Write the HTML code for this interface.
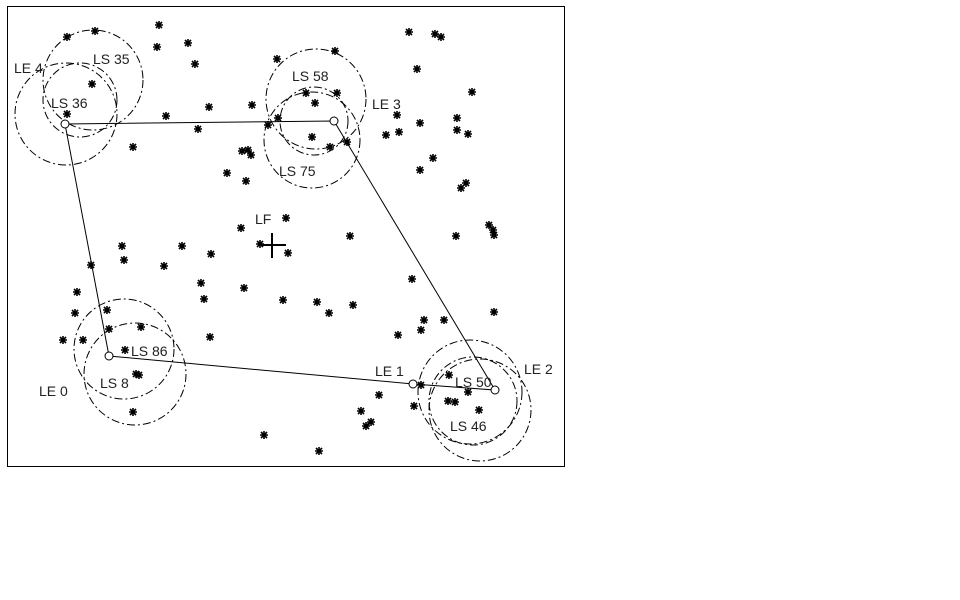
<!DOCTYPE html>
<html><head><style>body{margin:0;background:#fff}svg{display:block}text{font-family:"Liberation Sans",sans-serif;font-size:14px;fill:#222}</style></head><body>
<svg width="960" height="600" xmlns="http://www.w3.org/2000/svg">
<defs><g id="s"><path d="M-4 0H4M0-4V4M-3-3L3 3M-3 3L3-3" stroke="#000" stroke-width="1.6"/></g></defs>
<rect x="7.5" y="6.5" width="557" height="460" fill="none" stroke="#000"/>
<g fill="none" stroke="#000" stroke-width="1" stroke-dasharray="8,3,2,3">
<circle cx="66" cy="114" r="51"/><circle cx="93" cy="80" r="50"/><circle cx="80" cy="100" r="37"/>
<circle cx="316" cy="99" r="50"/><circle cx="314" cy="121" r="34"/><circle cx="312" cy="140" r="48"/>
<circle cx="124" cy="349" r="50"/><circle cx="135" cy="374" r="51"/>
<circle cx="470" cy="392" r="52"/><circle cx="480" cy="410" r="51"/><circle cx="473" cy="401" r="44"/>
</g>
<polyline points="65,124 334,121 495,390 413,384 109,356 65,124" fill="none" stroke="#000"/>
<g fill="#fff" stroke="#000"><circle cx="65" cy="124" r="4"/><circle cx="334" cy="121" r="4"/><circle cx="495" cy="390" r="4"/><circle cx="413" cy="384" r="4"/><circle cx="109" cy="356" r="4"/></g>
<path d="M262 245H286M272 233V258" stroke="#000" stroke-width="2"/>
<g>
<use href="#s" x="67" y="37"/><use href="#s" x="95" y="31"/><use href="#s" x="159" y="25"/><use href="#s" x="157" y="47"/><use href="#s" x="188" y="43"/><use href="#s" x="195" y="64"/><use href="#s" x="92" y="84"/><use href="#s" x="67" y="114"/><use href="#s" x="166" y="116"/><use href="#s" x="209" y="107"/><use href="#s" x="252" y="105"/><use href="#s" x="198" y="129"/><use href="#s" x="133" y="147"/><use href="#s" x="242" y="151"/><use href="#s" x="248" y="150"/><use href="#s" x="251" y="155"/><use href="#s" x="227" y="173"/><use href="#s" x="246" y="181"/><use href="#s" x="241" y="228"/><use href="#s" x="286" y="218"/><use href="#s" x="277" y="59"/><use href="#s" x="335" y="51"/><use href="#s" x="306" y="93"/><use href="#s" x="337" y="93"/><use href="#s" x="315" y="103"/><use href="#s" x="278" y="118"/><use href="#s" x="268" y="125"/><use href="#s" x="312" y="137"/><use href="#s" x="330" y="147"/><use href="#s" x="347" y="142"/><use href="#s" x="409" y="32"/><use href="#s" x="435" y="34"/><use href="#s" x="441" y="37"/><use href="#s" x="417" y="69"/><use href="#s" x="472" y="92"/><use href="#s" x="397" y="115"/><use href="#s" x="420" y="123"/><use href="#s" x="457" y="118"/><use href="#s" x="457" y="130"/><use href="#s" x="468" y="134"/><use href="#s" x="386" y="135"/><use href="#s" x="399" y="132"/><use href="#s" x="433" y="158"/><use href="#s" x="420" y="170"/><use href="#s" x="466" y="183"/><use href="#s" x="461" y="188"/><use href="#s" x="489" y="225"/><use href="#s" x="493" y="230"/><use href="#s" x="494" y="235"/><use href="#s" x="456" y="236"/><use href="#s" x="350" y="236"/><use href="#s" x="288" y="253"/><use href="#s" x="260" y="244"/><use href="#s" x="122" y="246"/><use href="#s" x="182" y="246"/><use href="#s" x="124" y="260"/><use href="#s" x="211" y="254"/><use href="#s" x="91" y="265"/><use href="#s" x="164" y="266"/><use href="#s" x="201" y="283"/><use href="#s" x="244" y="288"/><use href="#s" x="204" y="299"/><use href="#s" x="77" y="292"/><use href="#s" x="283" y="300"/><use href="#s" x="317" y="302"/><use href="#s" x="329" y="313"/><use href="#s" x="353" y="305"/><use href="#s" x="412" y="279"/><use href="#s" x="494" y="312"/><use href="#s" x="424" y="320"/><use href="#s" x="444" y="320"/><use href="#s" x="75" y="313"/><use href="#s" x="107" y="310"/><use href="#s" x="141" y="327"/><use href="#s" x="109" y="329"/><use href="#s" x="210" y="337"/><use href="#s" x="398" y="335"/><use href="#s" x="421" y="330"/><use href="#s" x="63" y="340"/><use href="#s" x="83" y="340"/><use href="#s" x="125" y="350"/><use href="#s" x="136" y="374"/><use href="#s" x="139" y="375"/><use href="#s" x="133" y="412"/><use href="#s" x="449" y="375"/><use href="#s" x="421" y="385"/><use href="#s" x="468" y="392"/><use href="#s" x="379" y="395"/><use href="#s" x="448" y="401"/><use href="#s" x="455" y="402"/><use href="#s" x="414" y="406"/><use href="#s" x="479" y="410"/><use href="#s" x="361" y="411"/><use href="#s" x="371" y="422"/><use href="#s" x="366" y="426"/><use href="#s" x="264" y="435"/><use href="#s" x="319" y="451"/>
</g>
<text x="14" y="73">LE 4</text><text x="93" y="64">LS 35</text><text x="51" y="108">LS 36</text>
<text x="292" y="81">LS 58</text><text x="372" y="109">LE 3</text><text x="279" y="176">LS 75</text>
<text x="255" y="224">LF</text>
<text x="131" y="356">LS 86</text><text x="100" y="388">LS 8</text><text x="39" y="396">LE 0</text>
<text x="375" y="376">LE 1</text><text x="455" y="387">LS 50</text><text x="524" y="374">LE 2</text><text x="450" y="431">LS 46</text>
</svg></body></html>
